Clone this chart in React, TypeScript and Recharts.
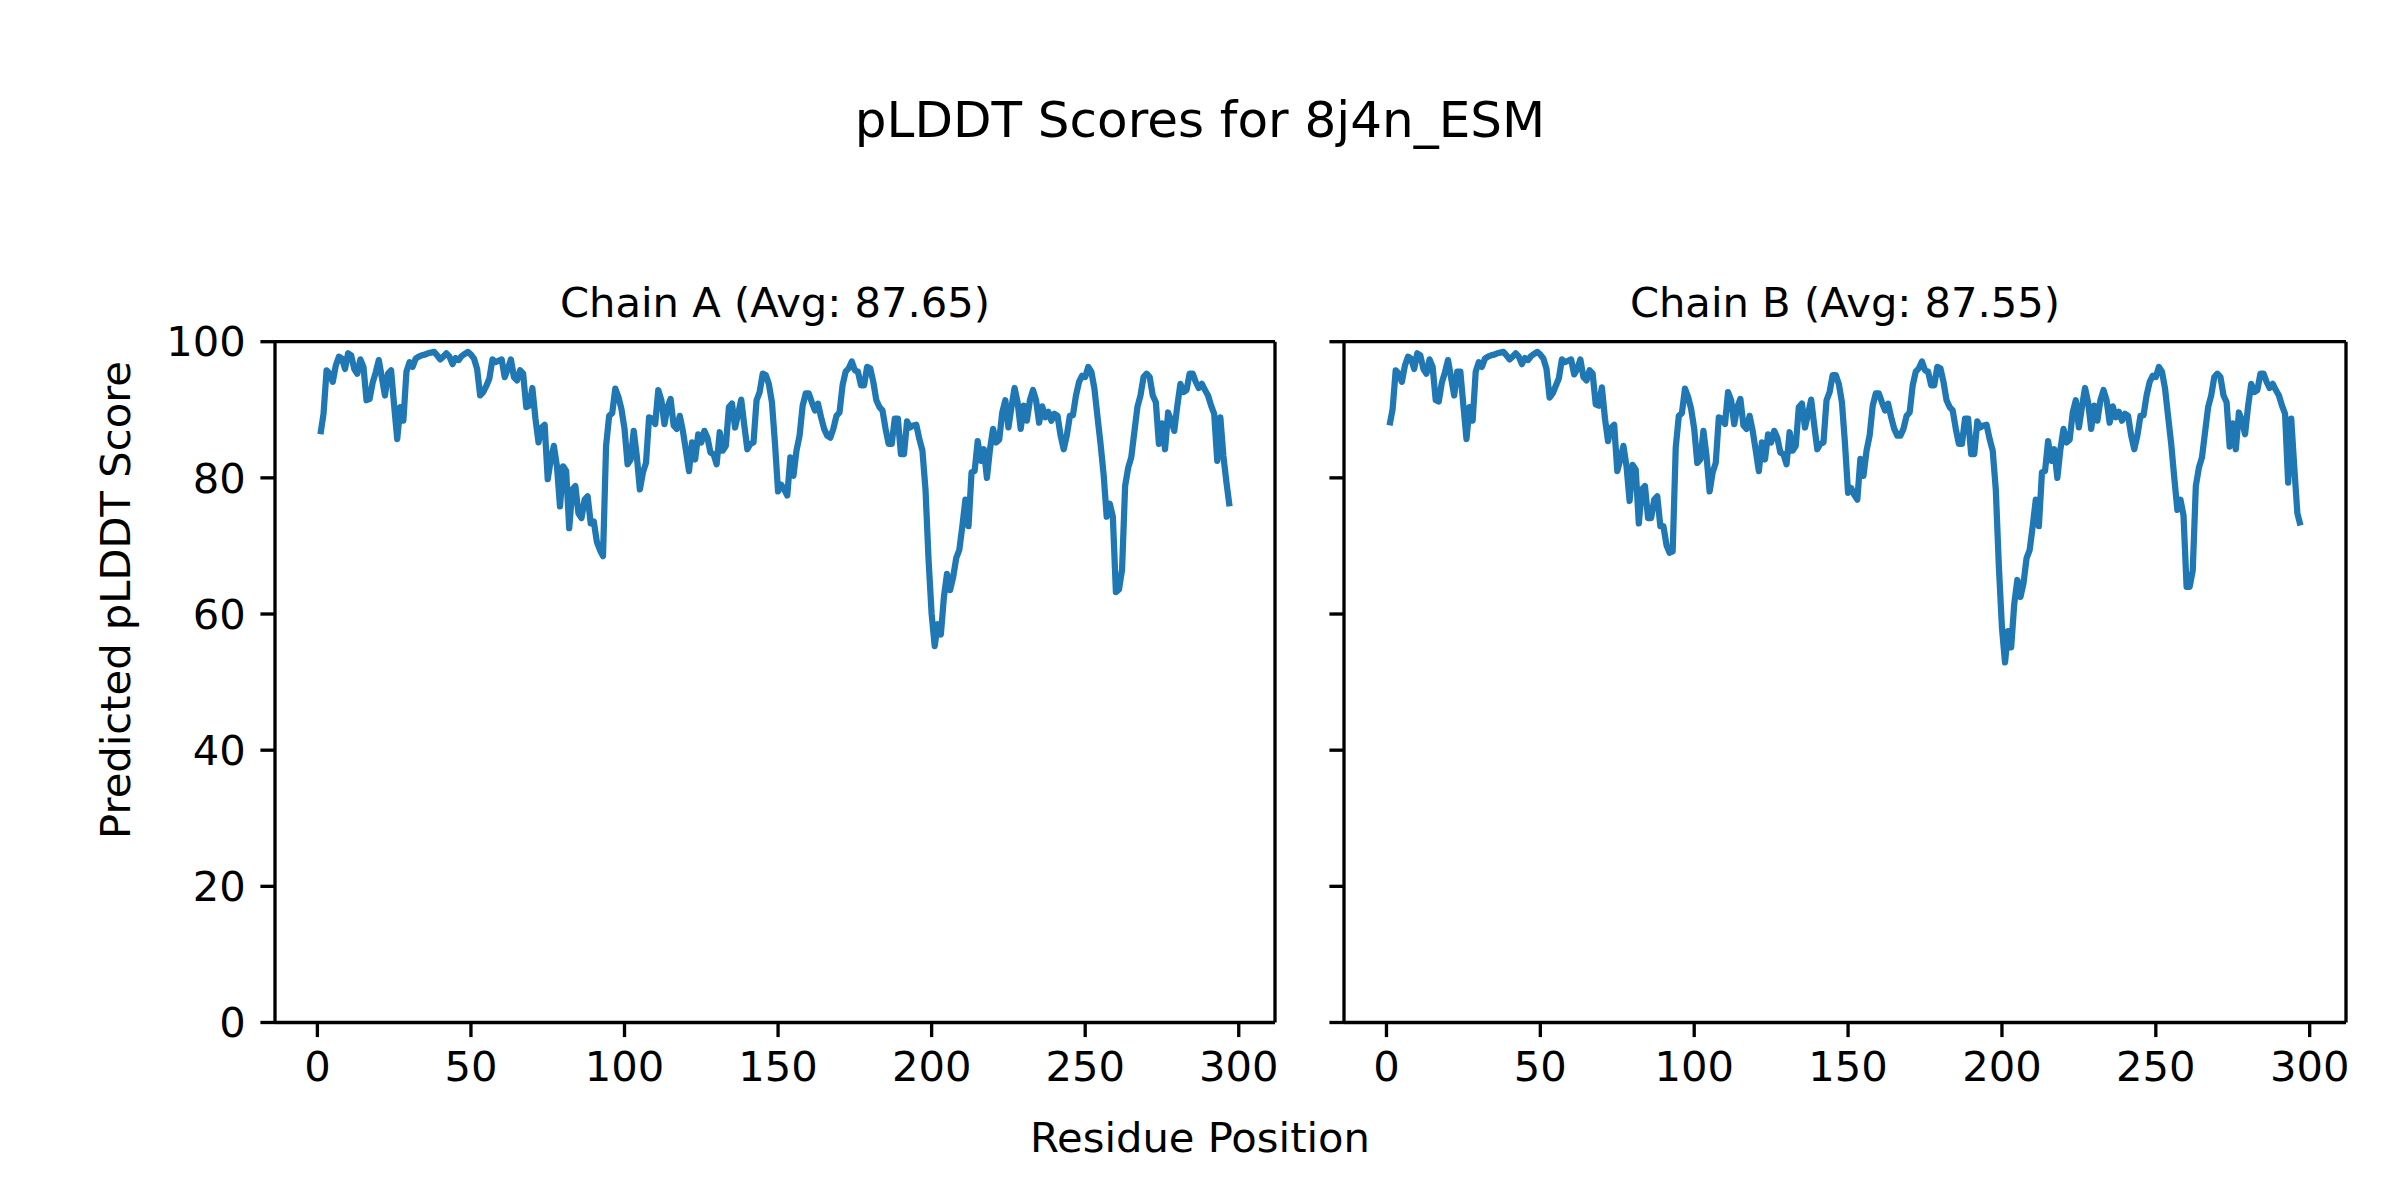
import React from 'react';
import { LineChart, Line, XAxis, YAxis, ReferenceLine } from 'recharts';

// ---------- data ----------
const figureTitle = 'pLDDT Scores for 8j4n_ESM';
const chainTitles = ['Chain A (Avg: 87.65)', 'Chain B (Avg: 87.55)'];
const xLabel = 'Residue Position';
const yLabel = 'Predicted pLDDT Score';
const xTicks = [0, 50, 100, 150, 200, 250, 300];
const yTicks = [0, 20, 40, 60, 80, 100];

const chainAScores = [
  86.4, 89.4, 95.8, 95.3, 94.1, 96.5, 97.8, 97.5, 96.0, 98.3,
  98.0, 96.0, 95.3, 97.4, 96.3, 91.4, 91.6, 94.0, 95.5, 97.3,
  94.7, 92.1, 95.3, 95.8, 90.6, 85.7, 90.4, 88.4, 95.6, 97.0,
  96.3, 97.5, 97.8, 98.0, 98.1, 98.3, 98.4, 98.5, 98.0, 97.4,
  97.8, 98.3, 97.8, 96.7, 97.6, 97.3, 97.9, 98.2, 98.5, 98.1,
  97.5, 96.0, 92.1, 92.6, 93.5, 94.6, 97.4, 97.0, 97.2, 97.4,
  94.8, 96.0, 97.4, 94.8, 94.3, 95.8, 95.3, 90.4, 90.6, 93.2,
  88.7, 85.2, 87.4, 87.8, 79.8, 82.7, 84.7, 81.7, 75.8, 81.7,
  81.0, 72.6, 78.3, 78.8, 74.8, 74.1, 76.8, 77.3, 73.3, 73.6,
  70.6, 69.4, 68.5, 84.7, 89.1, 89.5, 93.1, 91.9, 90.1, 87.2,
  82.0, 82.7, 86.9, 83.2, 78.3, 80.8, 82.2, 88.9, 88.7, 87.9,
  92.9, 91.4, 87.9, 90.4, 91.6, 87.7, 87.2, 89.1, 86.9, 84.0,
  81.0, 85.2, 82.7, 86.4, 85.2, 86.9, 85.9, 83.7, 83.5, 82.0,
  86.7, 84.0, 84.7, 90.4, 90.9, 87.4, 89.4, 91.5, 87.7, 84.2,
  85.0, 85.2, 91.4, 92.6, 95.3, 95.1, 93.8, 91.1, 85.0, 78.0,
  79.0, 78.3, 77.4, 83.0, 80.3, 84.0, 86.2, 90.6, 92.4, 92.4,
  91.1, 89.9, 90.9, 88.9, 87.2, 86.2, 85.9, 87.2, 89.1, 89.6,
  93.6, 95.6, 96.1, 97.1, 95.8, 95.6, 93.6, 93.6, 96.3, 96.1,
  94.1, 91.4, 90.4, 89.9, 87.2, 85.0, 85.0, 88.7, 88.7, 83.5,
  83.5, 88.3, 87.4, 87.7, 87.8, 85.7, 84.0, 78.3, 68.0, 60.0,
  55.3, 58.5, 57.0, 62.5, 65.9, 63.5, 65.4, 68.2, 69.4, 72.9,
  76.8, 72.9, 80.8, 81.0, 85.4, 82.5, 84.2, 80.0, 84.2, 87.2,
  85.2, 85.6, 89.6, 91.4, 87.4, 90.4, 93.2, 91.1, 87.2, 90.6,
  88.4, 91.4, 92.9, 91.4, 88.1, 90.5, 88.9, 89.7, 88.4, 89.4,
  89.1, 86.2, 84.2, 86.2, 89.1, 89.2, 92.1, 94.1, 95.0, 94.8,
  96.3, 95.6, 93.1, 89.0, 85.0, 80.5, 74.3, 76.2, 74.3, 63.2,
  63.6, 66.5, 78.8, 81.5, 83.0, 86.7, 90.4, 92.1, 94.8, 95.3,
  94.8, 92.1, 91.1, 85.0, 88.0, 84.2, 89.6, 88.4, 86.9, 90.6,
  93.8, 92.6, 92.9, 95.3, 95.3, 94.1, 93.2, 93.8, 92.9, 92.1,
  90.6, 89.4, 82.5, 88.9, 83.2, 79.3, 75.8,
];

const chainBScores = [
  87.7, 90.1, 95.8, 95.3, 94.1, 96.5, 97.8, 97.5, 96.0, 98.3,
  98.0, 96.0, 95.3, 97.4, 96.3, 91.4, 91.2, 94.0, 95.5, 97.3,
  94.7, 92.1, 95.6, 95.6, 90.6, 85.7, 90.4, 88.4, 95.6, 97.0,
  96.3, 97.5, 97.8, 98.0, 98.1, 98.3, 98.4, 98.5, 98.0, 97.4,
  97.8, 98.3, 97.8, 96.7, 97.6, 97.3, 97.9, 98.2, 98.5, 98.1,
  97.5, 96.0, 91.8, 92.4, 93.5, 94.6, 97.4, 97.0, 97.2, 97.4,
  95.2, 96.0, 97.4, 94.8, 94.3, 95.8, 95.3, 90.8, 90.6, 93.3,
  88.7, 85.4, 87.4, 87.8, 81.0, 82.7, 84.7, 81.7, 76.6, 81.9,
  81.2, 73.3, 78.3, 78.8, 74.1, 74.1, 76.8, 77.3, 72.9, 72.9,
  70.1, 69.0, 69.2, 84.5, 89.1, 89.5, 93.1, 91.9, 90.1, 87.2,
  82.2, 82.7, 86.9, 83.2, 78.0, 80.8, 82.2, 88.9, 88.7, 87.9,
  92.6, 91.4, 87.9, 90.4, 91.6, 87.7, 87.2, 89.1, 86.9, 84.0,
  81.0, 85.2, 82.7, 86.4, 85.2, 86.9, 85.9, 83.7, 83.5, 82.0,
  86.7, 84.0, 84.7, 90.4, 90.9, 87.4, 89.4, 91.5, 87.7, 84.2,
  85.0, 85.2, 91.4, 92.6, 95.1, 95.1, 93.8, 91.1, 85.0, 77.8,
  78.5, 77.5, 76.8, 82.8, 80.3, 84.0, 86.2, 90.6, 92.4, 92.4,
  91.1, 89.9, 90.9, 88.9, 87.2, 86.2, 86.2, 87.2, 89.1, 89.6,
  93.6, 95.6, 96.1, 97.1, 95.8, 95.6, 93.6, 93.6, 96.3, 96.1,
  94.1, 91.4, 90.4, 89.9, 87.2, 85.0, 85.0, 88.7, 88.7, 83.5,
  83.5, 88.3, 87.4, 87.7, 87.8, 85.7, 84.0, 78.3, 67.0, 58.0,
  52.9, 57.5, 55.1, 61.5, 65.0, 62.5, 64.5, 68.2, 69.4, 72.9,
  76.8, 72.9, 80.8, 81.0, 85.4, 82.5, 84.2, 80.0, 84.2, 87.2,
  85.2, 85.6, 89.6, 91.4, 87.4, 90.4, 93.2, 91.1, 87.2, 90.6,
  88.4, 91.4, 92.9, 91.4, 88.1, 90.5, 88.9, 89.7, 88.4, 89.4,
  89.1, 86.2, 84.2, 86.2, 89.1, 89.2, 92.1, 94.1, 95.0, 94.8,
  96.3, 95.6, 93.1, 89.0, 85.0, 80.0, 75.3, 76.8, 74.5, 64.0,
  64.0, 66.4, 78.8, 81.5, 83.0, 86.7, 90.4, 92.1, 94.8, 95.3,
  94.8, 92.1, 91.1, 84.6, 88.0, 84.2, 89.6, 88.4, 86.4, 90.6,
  93.8, 92.6, 92.9, 95.3, 95.3, 94.1, 93.2, 93.8, 92.9, 92.1,
  90.6, 89.4, 79.3, 88.7, 81.5, 74.8, 73.0,
];

// ---------- layout / style ----------
const FONT = '"DejaVu Sans", sans-serif';
const PT = 300 / 72; // px per point
const FS = 10 * PT; // 41.7
const FS_TITLE = 12 * PT; // 50
const SPINE = 0.8 * PT;
const TICK_LEN = 3.5 * PT;
const TICK_PAD = 3.5 * PT;
const LINE_W = 1.5 * PT;
const BLUE = '#1f77b4';

const AX_TOP = 341.7;
const AX_BOTTOM = 1022.5;
const AX_A = { left: 275, right: 1275 };
const AX_B = { left: 1344, right: 2346 };

const toRows = (scores: number[]) => scores.map((v, i) => ({ pos: i + 1, score: v }));

const EmptyTick = () => <g />;

type PanelProps = {
  scores: number[];
  boxLeft: number;
  boxWidth: number;
  axLeft: number;
  axRight: number;
  showYLabels: boolean;
};

const Panel = ({ scores, boxLeft, boxWidth, axLeft, axRight, showYLabels }: PanelProps) => {
  const rows = toRows(scores);
  const n = scores.length;
  const span = n - 1;
  const xMin = 1 - 0.05 * span;
  const xMax = n + 0.05 * span;
  const yAxisW = showYLabels ? 140 : 30;
  const xAxisH = 100;
  const margin = {
    top: AX_TOP,
    left: axLeft - boxLeft - yAxisW,
    right: boxLeft + boxWidth - axRight,
    bottom: 1200 - AX_BOTTOM - xAxisH,
  };
  const axisStyle = { stroke: '#000', strokeWidth: SPINE };
  const tickStyle = { fontSize: FS, fill: '#000', fontFamily: FONT };
  return (
    <div style={{ position: 'absolute', left: boxLeft, top: 0 }}>
      <LineChart width={boxWidth} height={1200} data={rows} margin={margin}>
        <XAxis
          dataKey="pos"
          type="number"
          domain={[xMin, xMax]}
          allowDataOverflow
          ticks={xTicks}
          interval={0}
          height={xAxisH}
          tickSize={TICK_LEN}
          tickMargin={TICK_PAD}
          axisLine={axisStyle}
          tickLine={axisStyle}
          tick={tickStyle}
        />
        <YAxis
          type="number"
          domain={[0, 100]}
          allowDataOverflow
          ticks={yTicks}
          interval={0}
          width={yAxisW}
          tickSize={TICK_LEN}
          tickMargin={TICK_PAD}
          axisLine={axisStyle}
          tickLine={axisStyle}
          tick={showYLabels ? tickStyle : <EmptyTick />}
        />
        <ReferenceLine y={100} stroke="#000" strokeWidth={SPINE} ifOverflow="visible" />
        <ReferenceLine x={xMax} stroke="#000" strokeWidth={SPINE} ifOverflow="visible" />
        <Line
          type="linear"
          dataKey="score"
          stroke={BLUE}
          strokeWidth={LINE_W}
          strokeLinejoin="round"
          dot={false}
          activeDot={false}
          isAnimationActive={false}
        />
      </LineChart>
    </div>
  );
};

export default function App() {
  return (
    <div style={{ position: 'absolute', left: 0, top: 0, width: 2400, height: 1200, background: '#fff' }}>
      <Panel scores={chainAScores} boxLeft={0} boxWidth={1300} axLeft={AX_A.left} axRight={AX_A.right} showYLabels />
      <Panel scores={chainBScores} boxLeft={1300} boxWidth={1100} axLeft={AX_B.left} axRight={AX_B.right} showYLabels={false} />
      <svg
        width={2400}
        height={1200}
        style={{ position: 'absolute', left: 0, top: 0, pointerEvents: 'none' }}
        fontFamily={FONT}
      >
        <text x={1200} y={137} textAnchor="middle" fontSize={FS_TITLE} fill="#000">
          {figureTitle}
        </text>
        <text x={(AX_A.left + AX_A.right) / 2} y={AX_TOP - 6 * PT} textAnchor="middle" fontSize={FS} fill="#000">
          {chainTitles[0]}
        </text>
        <text x={(AX_B.left + AX_B.right) / 2} y={AX_TOP - 6 * PT} textAnchor="middle" fontSize={FS} fill="#000">
          {chainTitles[1]}
        </text>
        <text x={1200} y={1152} textAnchor="middle" fontSize={FS} fill="#000">
          {xLabel}
        </text>
        <text
          x={130}
          y={600}
          textAnchor="middle"
          fontSize={FS}
          fill="#000"
          transform="rotate(-90 130 600)"
        >
          {yLabel}
        </text>
      </svg>
    </div>
  );
}
